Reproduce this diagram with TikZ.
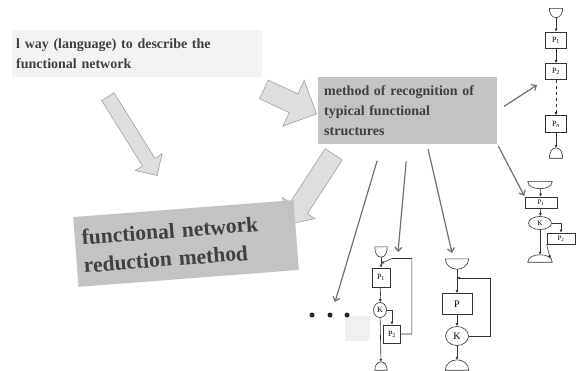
\documentclass[tikz,border=0pt]{standalone}
\usepackage{fontspec}
\setmainfont{Liberation Serif}
\usetikzlibrary{shapes.arrows,shapes.geometric,arrows.meta,calc}

\definecolor{boxgray}{HTML}{C3C3C3}
\definecolor{palegray}{HTML}{F3F3F3}
\definecolor{arrowfill}{HTML}{DEDEDE}
\definecolor{arrowline}{HTML}{A0A0A0}
\definecolor{inkgray}{HTML}{404040}
\definecolor{lead}{HTML}{707070}
\definecolor{fcink}{HTML}{333333}

\tikzset{
  bigarrow/.style={single arrow, draw=arrowline, fill=arrowfill, line width=0.6pt, inner xsep=0pt},
  textbox/.style={text=inkgray, align=left, inner xsep=4pt},
  pointer/.style={draw=lead, line width=1.2pt, -{Straight Barb[length=4pt,width=7pt]}},
  fcline/.style={draw=fcink, line width=0.6pt},
  link/.style={fcline, -{Latex[length=3pt,width=3pt]}},
  proc/.style={rectangle, fcline, inner sep=0pt, font=\footnotesize},
  cond/.style={ellipse, fcline, inner sep=0pt, font=\footnotesize},
  term/.style={rectangle, inner sep=0pt},
}
\newcommand{\termtop}[1]{\draw[fcline] (#1.north west) -- (#1.north east) to[out=-90,in=0] (#1.south) to[out=180,in=-90] (#1.north west) -- cycle;}
\newcommand{\termbot}[1]{\draw[fcline] (#1.south west) -- (#1.south east) to[out=90,in=0] (#1.north) to[out=180,in=90] (#1.south west) -- cycle;}

\begin{document}
\begin{tikzpicture}[x=1pt,y=-1pt]
\useasboundingbox (0,0) rectangle (577,370);

% hollow block arrows
\node[bigarrow, inner ysep=10pt, single arrow head extend=15pt, minimum height=58pt, rotate=-25] (arrA) at (285.5,99.5) {};
\node[bigarrow, inner ysep=7pt, single arrow head extend=8.5pt, minimum height=93pt, rotate=-58] (arrB) at (130.5,133) {};
\node[bigarrow, inner ysep=10pt, single arrow head extend=9pt, minimum height=83.5pt, rotate=-123] (arrC) at (313.75,185) {};

% text boxes
\node[textbox, fill=palegray, anchor=north west, minimum width=250pt, minimum height=47pt, text width=242pt,
  font=\fontsize{14}{20}\selectfont\bfseries] (lang) at (12,30) {l way (language) to describe the\\functional network};
\node[textbox, fill=boxgray, anchor=north west, minimum width=179pt, minimum height=67pt, text width=167pt, inner xsep=6pt,
  font=\fontsize{14}{20}\selectfont\bfseries] (method) at (318,77) {method of recognition of\\typical functional\\structures};
\node[textbox, fill=boxgray, minimum width=221pt, minimum height=70pt, text width=207pt, inner xsep=7pt, rotate=4.4,
  font=\fontsize{21.5}{28}\selectfont\bfseries] (reduce) at (186,243.5) {functional network\\reduction method};

% dots
\fill[gray!12] (345,316) rectangle (370,341);
\foreach \i/\x in {1/312,2/330,3/347}
  \node[circle, fill=black!85, inner sep=0pt, minimum size=5pt] (d\i) at (\x,315) {};

% pointers
\coordinate (aim0) at (537,85);
\coordinate (aim1) at (335,302);
\coordinate (aim2) at (398,252);
\coordinate (aim3) at (452,253);

% chain P1 ... Pn
\node[term, minimum width=13pt, minimum height=9pt] (t1) at (556,13) {};
\node[proc, minimum width=21pt, minimum height=16pt] (p11) at (556,40) {P\textsubscript{1}};
\node[proc, minimum width=21pt, minimum height=16pt] (p12) at (556,71.5) {P\textsubscript{2}};
\node[proc, minimum width=21pt, minimum height=17pt] (p1n) at (556,124) {P\textsubscript{\itshape n}};
\node[term, minimum width=13pt, minimum height=10pt] (e1) at (556,153) {};
\termtop{t1} \termbot{e1}
\draw[link] (t1) -- (p11);
\draw[link] (p11) -- (p12);
\draw[link, dashed] (p12) -- (p1n);
\draw[link] (p1n) -- (e1);

% branch P1, K, P2
\node[term, minimum width=24pt, minimum height=7pt] (t2) at (540,185) {};
\node[proc, minimum width=32pt, minimum height=11pt, font=\scriptsize] (p21) at (541,202.5) {P\textsubscript{1}};
\node[cond, minimum width=23pt, minimum height=13pt, font=\scriptsize] (k2) at (540,223) {K};
\node[proc, minimum width=28pt, minimum height=11pt, font=\scriptsize] (p22) at (561,238.5) {P\textsubscript{2}};
\node[term, minimum width=24pt, minimum height=7pt] (e2) at (540,258.5) {};
\termtop{t2} \termbot{e2}
\draw[link] (t2) -- (p21);
\draw[link] (p21) -- (k2);
\draw[link] (k2) -- (e2);
\draw[link] (k2.east) -| (p22.north);
\draw[link] (p22.south west) -- ([xshift=-2pt]e2.east);

% loop P1, K, P2
\node[term, minimum width=12pt, minimum height=10pt] (t3) at (381,252) {};
\node[proc, minimum width=18pt, minimum height=19pt] (p31) at (381,277.5) {P\textsubscript{1}};
\node[cond, minimum width=13pt, minimum height=15pt] (k3) at (380,310) {K};
\node[proc, minimum width=17pt, minimum height=18pt] (p32) at (392,334) {P\textsubscript{2}};
\node[term, minimum width=12pt, minimum height=8pt] (e3) at (381,366) {};
\termtop{t3} \termbot{e3}
\coordinate (j3) at ($(t3.south)!0.6!(p31.north)$);
\draw[link] (t3) -- (p31);
\draw[link] (p31) -- (k3);
\draw[link] (k3) -- (e3);
\draw[link] (k3.east) -| (p32.north);
\draw[link] (p32.east) -- ++(11,0) |- ($(j3)+(11,-5)$) -- (j3);

% loop P, K
\node[term, minimum width=23pt, minimum height=10pt] (t4) at (457,264) {};
\node[proc, minimum width=30pt, minimum height=21pt, font=\normalsize] (p4) at (457,304) {P};
\node[cond, minimum width=23pt, minimum height=19pt, font=\normalsize] (k4) at (457,336) {K};
\node[term, minimum width=23pt, minimum height=10pt] (e4) at (457,365) {};
\termtop{t4} \termbot{e4}
\coordinate (j4) at (457,278);
\draw[link] (t4) -- (p4);
\draw[link] (p4) -- (k4);
\draw[link] (k4) -- (e4);
\draw[link] (k4.east) -- ++(21.5,0) |- (j4);

% gray pointers from the recognition box
\draw[pointer, shorten <=8pt] (method.east) -- (aim0);
\draw[pointer, shorten <=2pt, shorten >=1pt] (method.south east) -- (p21.north west);
\draw[pointer, shorten <=17pt] ([xshift=64pt]method.south west) -- (aim1);
\draw[pointer, shorten <=17pt] (method.south) -- (aim2);
\draw[pointer, shorten <=5pt] ([xshift=109pt]method.south west) -- (aim3);
\end{tikzpicture}
\end{document}
